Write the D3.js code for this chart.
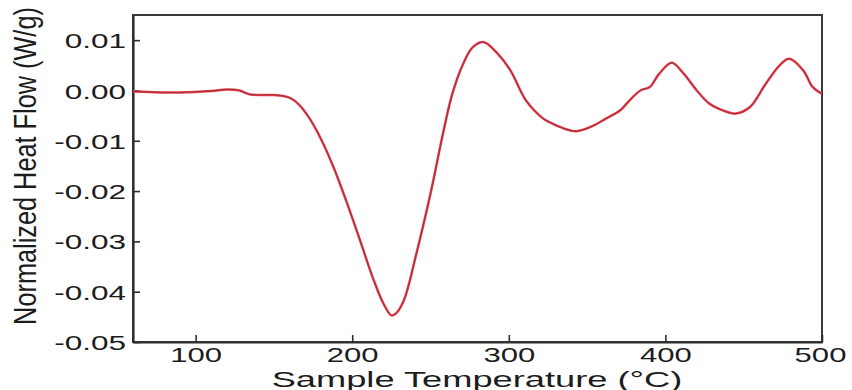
<!DOCTYPE html>
<html>
<head>
<meta charset="utf-8">
<script src="https://cdn.jsdelivr.net/npm/d3@7/dist/d3.min.js"></script>
<style>
  html, body { margin: 0; padding: 0; background: #fff; }
  svg { display: block; }
  text { font-family: "Liberation Sans", Arial, sans-serif; fill: #1c1c1c; }
</style>
</head>
<body>
<svg id="chart" width="852" height="390"></svg>
<script>
// ---- Data ----
const temperature = [60, 70, 90, 110, 120, 128, 132, 135, 142, 150, 156, 161, 166, 172, 179, 188, 196, 205, 213, 220, 225, 228, 233, 241, 250, 258, 264, 271, 277, 284, 292, 301, 311, 322, 326, 333, 343, 354, 362, 371, 377, 384, 390, 396, 404, 411, 420, 428, 437, 445, 454, 464, 473, 479, 488, 494, 500];
const heatFlow    = [-0.0002, -0.0003, -0.0004, -0.0001, 0.0002, 0.0000, -0.0005, -0.0008, -0.0009, -0.0009, -0.0011, -0.0016, -0.0028, -0.0052, -0.0090, -0.0152, -0.0218, -0.0298, -0.0371, -0.0424, -0.0447, -0.0443, -0.0417, -0.0324, -0.0205, -0.0085, -0.0006, 0.0054, 0.0086, 0.0096, 0.0076, 0.0040, -0.0020, -0.0056, -0.0063, -0.0073, -0.0081, -0.0070, -0.0056, -0.0040, -0.0020, 0.0000, 0.0007, 0.0033, 0.0055, 0.0036, 0.0000, -0.0026, -0.0040, -0.0046, -0.0033, 0.0013, 0.0050, 0.0063, 0.0040, 0.0007, -0.0007];
const xTicks = [100, 200, 300, 400, 500];
const yTicks = [0.01, 0.00, -0.01, -0.02, -0.03, -0.04, -0.05];
const xTitle = "Sample Temperature (°C)";
const yTitle = "Normalized Heat Flow (W/g)";

// ---- Layout ----
const plot = { left: 133, top: 15, right: 822, bottom: 342 };
const svg = d3.select("#chart");

const x = d3.scaleLinear().domain([60, 500]).range([plot.left, plot.right]);
const y = d3.scaleLinear().domain([-0.05, 0.015]).range([plot.bottom, plot.top]);

// frame
svg.append("rect")
  .attr("x", plot.left).attr("y", plot.top)
  .attr("width", plot.right - plot.left).attr("height", plot.bottom - plot.top)
  .attr("fill", "none").attr("stroke", "#3a3a3a").attr("stroke-width", 2);

// axes (inward ticks)
const fmtY = v => (v < 0 ? "-" : "") + Math.abs(v).toFixed(2);

const gx = svg.append("g").attr("transform", `translate(0,${plot.bottom})`)
  .call(d3.axisBottom(x).tickValues(xTicks).tickSize(-7).tickSizeOuter(0).tickFormat(d => d));
const gy = svg.append("g").attr("transform", `translate(${plot.left},0)`)
  .call(d3.axisLeft(y).tickValues(yTicks).tickSize(-7).tickSizeOuter(0).tickFormat(fmtY));

[gx, gy].forEach(g => {
  g.select(".domain").attr("stroke", "#2e2e2e").attr("stroke-width", 2.2);
  g.selectAll(".tick line").attr("stroke", "#2e2e2e").attr("stroke-width", 1.6);
  g.selectAll("text").attr("fill", "#1c1c1c").attr("font-family", '"Liberation Sans", Arial, sans-serif');
});

// x tick labels: horizontally stretched as in the reference
gx.selectAll(".tick text")
  .attr("x", 0).attr("y", 0).attr("dy", null)
  .attr("font-size", 21)
  .attr("text-anchor", "middle")
  .attr("transform", d => (d === 500 ? "translate(-2,20) scale(1.48,1)" : "translate(0,20) scale(1.48,1)"));

// y tick labels
gy.selectAll(".tick text")
  .attr("x", 0).attr("y", 0).attr("dy", "0.36em")
  .attr("font-size", 21)
  .attr("text-anchor", "end")
  .attr("transform", "translate(-7,0) scale(1.5,1)");

// x title
const xt = svg.append("text")
  .attr("font-size", 21.5)
  .attr("text-anchor", "middle")
  .text(xTitle);
const xLen = xt.node().getComputedTextLength();
xt.attr("transform", `translate(477,387) scale(${411 / xLen},1)`);

// y title (rotated, glyphs thickened horizontally)
const yt = svg.append("text")
  .attr("font-size", 22)
  .attr("text-anchor", "middle")
  .text(yTitle);
const yLen = yt.node().getComputedTextLength();
const ys = 318 / yLen;
yt.attr("transform", `translate(36,166) rotate(-90) scale(${ys},1.45)`);

// curve
const line = d3.line()
  .x((d, i) => x(temperature[i]))
  .y(d => y(d))
  .curve(d3.curveCatmullRom.alpha(0.5));

const clipId = "plotclip";
svg.append("clipPath").attr("id", clipId).append("rect")
  .attr("x", plot.left).attr("y", plot.top)
  .attr("width", plot.right - plot.left).attr("height", plot.bottom - plot.top);

const cg = svg.append("g").attr("clip-path", `url(#${clipId})`);
cg.append("path").datum(heatFlow)
  .attr("d", line).attr("fill", "none")
  .attr("stroke", "#e8404e").attr("stroke-width", 2.5).attr("stroke-linejoin", "round");
cg.append("path").datum(heatFlow)
  .attr("d", line).attr("fill", "none")
  .attr("stroke", "#9a2a36").attr("stroke-width", 0.9).attr("stroke-linejoin", "round");
</script>
</body>
</html>
